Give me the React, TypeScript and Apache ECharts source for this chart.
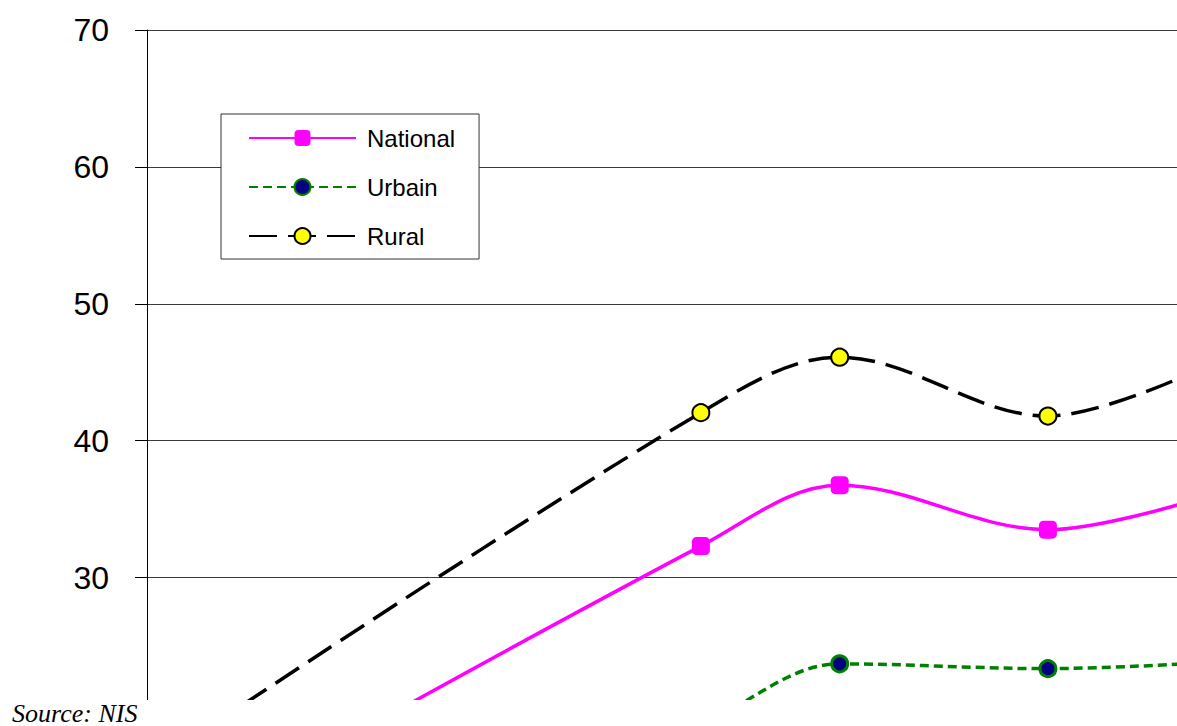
import React, { useEffect, useRef } from 'react';
import * as echarts from 'echarts';

// Data (years on a time-proportional x axis; earlier values lie below the visible area)
const years = [1988, 1996, 1998, 2001, 2003];
const nationalValues = [10.1, 32.3, 36.75, 33.5, 35.5];
const urbanValues = [4.1, 19.3, 23.7, 23.35, 23.7];
const ruralValues = [16.0, 42.05, 46.1, 41.8, 44.8];
const seriesNames = ['National', 'Urbain', 'Rural'];
const yMin = 20;
const yMax = 70;
const yInterval = 10;
const xMin = 1988.02;
const xMax = 2002.86;
const sourceText = 'Source: NIS';

const pairs = (vals: number[]) => years.map((y, i) => [y, vals[i]]);

export default function App() {
  const ref = useRef<HTMLDivElement>(null);
  useEffect(() => {
    if (!ref.current) return;
    const chart = echarts.init(ref.current, undefined, { renderer: 'svg' });
    const font = "'Liberation Sans', Arial, sans-serif";
    chart.setOption({
      animation: false,
      backgroundColor: '#fff',
      textStyle: { fontFamily: font },
      grid: { left: 147, right: 0, top: 30, bottom: 11.5, containLabel: false },
      xAxis: { type: 'value', min: xMin, max: xMax, show: false },
      yAxis: {
        type: 'value',
        min: yMin,
        max: yMax,
        interval: yInterval,
        axisLine: { show: true, lineStyle: { color: '#000', width: 1 } },
        axisTick: { show: true, length: 12, lineStyle: { color: '#000' } },
        axisLabel: {
          fontSize: 32,
          color: '#000',
          margin: 38,
          fontFamily: font,
          formatter: (v: number) => (v <= yMin ? '' : String(v)),
        },
        splitLine: { show: true, lineStyle: { color: '#3a3a3a', width: 1 } },
      },
      legend: {
        orient: 'vertical',
        left: 221,
        top: 114,
        padding: [12, 24, 11, 27],
        itemWidth: 107,
        itemHeight: 20,
        itemGap: 25,
        backgroundColor: '#fff',
        borderColor: '#333',
        borderWidth: 1,
        data: seriesNames,
        textStyle: { fontSize: 24, color: '#000', fontFamily: font, padding: [0, 0, 0, 6] },
      },
      series: [
        {
          name: seriesNames[0],
          type: 'line',
          data: pairs(nationalValues),
          smooth: 0.35,
          symbol: 'roundRect',
          symbolSize: 18,
          lineStyle: { color: '#FF00FF', width: 3.5 },
          itemStyle: { color: '#FF00FF' },
          z: 3,
        },
        {
          name: seriesNames[1],
          type: 'line',
          data: pairs(urbanValues),
          smooth: 0.35,
          symbol: 'circle',
          symbolSize: 16,
          lineStyle: { color: '#008000', width: 3.5, type: [9, 5] },
          itemStyle: { color: '#000080', borderColor: '#008000', borderWidth: 3 },
          z: 3,
        },
        {
          name: seriesNames[2],
          type: 'line',
          data: pairs(ruralValues),
          smooth: 0.35,
          symbol: 'circle',
          symbolSize: 17,
          lineStyle: { color: '#000', width: 3.5, type: [28, 11] },
          itemStyle: { color: '#FFFF00', borderColor: '#000', borderWidth: 2 },
          z: 3,
        },
      ],
      graphic: [
        {
          type: 'rect',
          z: 100,
          shape: { x: 0, y: 700, width: 1177, height: 26 },
          style: { fill: '#fff' },
        },
        {
          type: 'text',
          z: 101,
          x: 12,
          y: 713,
          style: {
            text: sourceText,
            font: "italic 26px 'Liberation Serif', 'Times New Roman', serif",
            lineHeight: 24,
            fill: '#000',
            verticalAlign: 'middle',
            align: 'left',
          },
        },
      ],
    });
    return () => chart.dispose();
  }, []);
  return (
    <div
      ref={ref}
      style={{ position: 'fixed', left: 0, top: 0, width: 1177, height: 726, background: '#fff' }}
    />
  );
}
